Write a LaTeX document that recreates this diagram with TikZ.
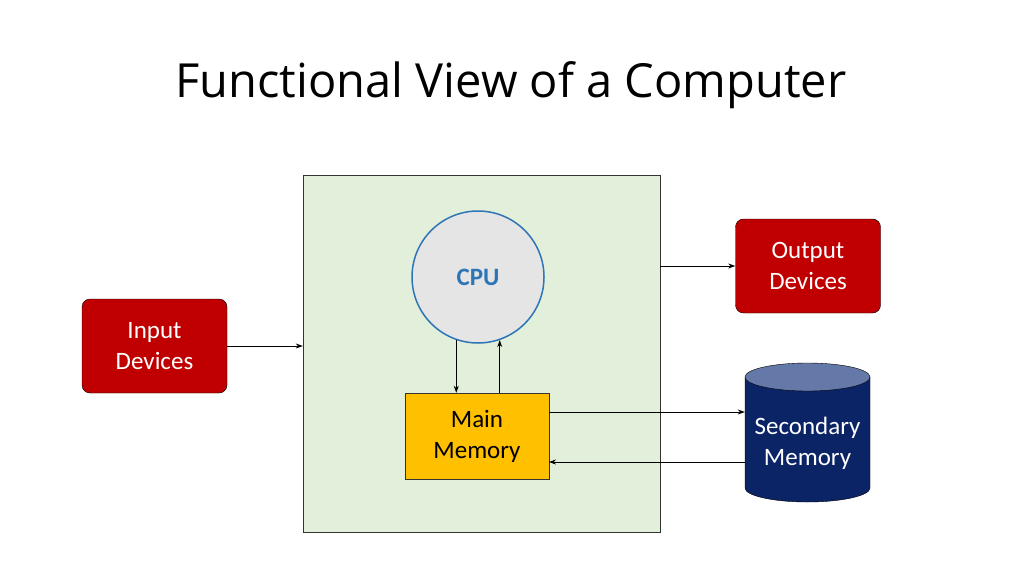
\documentclass[tikz,border=0pt]{standalone}
\usepackage{fontspec}
\setmainfont{Carlito}
\newfontfamily\titlefont{Open Sans}
\usetikzlibrary{arrows.meta}
\definecolor{boxgreen}{HTML}{E2EFDA}
\definecolor{devred}{HTML}{C00000}
\definecolor{memgold}{HTML}{FFC000}
\definecolor{cpublue}{HTML}{2E75B6}
\definecolor{navy}{HTML}{0B2466}
\definecolor{navytop}{HTML}{6479A8}
\tikzset{
  device/.style={draw=black, fill=devred, rounded corners=8pt, minimum width=145pt,
    minimum height=94pt, text=white, align=center, font=\fontsize{25}{31}\selectfont},
  link/.style={-{Stealth[length=7pt,width=5pt]}, thick}
}
\begin{document}
\begin{tikzpicture}[x=1pt,y=-1pt]
                %background and title
                \useasboundingbox[fill=white] (0,0) rectangle (1024,575);
                \node (title) at (511,85) {\titlefont\fontsize{47}{56}\selectfont Functional View of a Computer};

                %the computer itself
                \node (comp) [draw=black!80, fill=boxgreen, minimum width=357pt, minimum height=357pt] at (481.5,353.5) {};
                \node (cpu) [circle, draw=cpublue, line width=1.5pt, fill=black!10, minimum size=132pt,
                  text=cpublue, font=\fontsize{25}{30}\selectfont\bfseries] at (478,277) {CPU};
                \node (mem) [draw=black!80, fill=memgold, minimum width=144pt, minimum height=86pt, align=center,
                  font=\fontsize{25}{31}\selectfont] at (477,436) {Main\\Memory};

                %devices
                \node (in) [device] at (154.5,346) {Input\\Devices};
                \node (out) [device] at (808,266) {Output\\Devices};

                %secondary memory cylinder
                \fill[navy, draw=black] (745,377) -- (745,488) arc[start angle=180, end angle=0, x radius=62.5, y radius=14]
                  -- (870,377) -- cycle;
                \draw[fill=navytop, draw=black] (807.5,377) ellipse[x radius=62.5, y radius=14];
                \node (sec) [minimum width=125pt, minimum height=139pt, align=center, text=white,
                  font=\fontsize{25}{31}\selectfont] at (807.5,443) {Secondary\\Memory};

                %connections
                \draw[link] (in.east) -- (in.east -| comp.west);
                \draw[link] (out.west -| comp.east) -- (out.west);
                \draw[link] (cpu.-109) -- (cpu.-109 |- mem.north);
                \draw[link] (cpu.-71 |- mem.north) -- (cpu.-71);
                \coordinate (m1) at (549,412);
                \coordinate (m2) at (549,462);
                \draw[link] (m1) -- (m1 -| sec.west);
                \draw[link] (m2 -| sec.west) -- (m2);
            \end{tikzpicture}
\end{document}
